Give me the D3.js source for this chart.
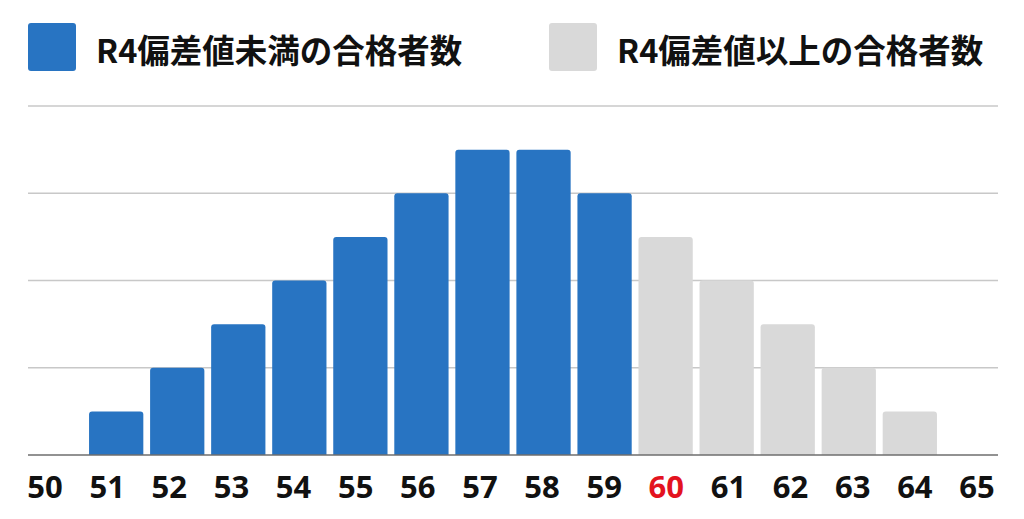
<!DOCTYPE html>
<html>
<head>
<meta charset="utf-8">
<script src="https://cdn.jsdelivr.net/npm/d3@7"></script>
<style>
  body { margin: 0; background: #fff; }
  text { font-family: "Noto Sans CJK JP", "Noto Sans", sans-serif; font-weight: 700; }
</style>
</head>
<body>
<div id="chart"></div>
<script>
const width = 1024;
const height = 519;

// data
const scores = ["50", "51", "52", "53", "54", "55", "56", "57", "58", "59", "60", "61", "62", "63", "64", "65"];
const counts = [0, 1, 2, 3, 4, 5, 6, 7, 7, 6, 5, 4, 3, 2, 1, 0];
const threshold = "60";
const seriesNames = ["R4偏差値未満の合格者数", "R4偏差値以上の合格者数"];
const seriesColors = ["#2874c2", "#d9d9d9"];
const gridValues = [0, 2, 4, 6, 8];

const left = 28, right = 998, baseY = 455;

const bars = scores.map((s, i) => ({ score: s, count: counts[i] }))
    .filter(d => d.count > 0);

const svg = d3.select("#chart")
    .append("svg")
    .attr("width", width)
    .attr("height", height);

const x = d3.scaleBand()
    .domain(scores)
    .range([left, right])
    .paddingInner(0.111)
    .paddingOuter(0);

const y = d3.scaleLinear()
    .domain([0, 8])
    .range([baseY, 106]);

// gridlines
svg.append("g")
    .selectAll("line")
    .data(gridValues.filter(v => v > 0))
    .enter().append("line")
    .attr("x1", left)
    .attr("x2", right)
    .attr("y1", d => y(d))
    .attr("y2", d => y(d))
    .attr("stroke", "#c8c8c8")
    .attr("stroke-width", 1.6);

// bars with rounded tops
const r = 3;
function barPath(d) {
    const x0 = x(d.score), w = x.bandwidth();
    const top = y(d.count), bot = y(0);
    return `M${x0},${bot}V${top + r}Q${x0},${top} ${x0 + r},${top}` +
        `H${x0 + w - r}Q${x0 + w},${top} ${x0 + w},${top + r}V${bot}Z`;
}

svg.append("g")
    .selectAll("path")
    .data(bars)
    .enter().append("path")
    .attr("d", barPath)
    .attr("fill", d => +d.score < +threshold ? seriesColors[0] : seriesColors[1]);

// baseline
svg.append("line")
    .attr("x1", left)
    .attr("x2", right)
    .attr("y1", y(0))
    .attr("y2", y(0))
    .attr("stroke", "#6e6e6e")
    .attr("stroke-width", 1.6);

// tick labels are spread evenly edge to edge
const labelX = d3.scalePoint()
    .domain(scores)
    .range([45, 977]);

svg.append("g")
    .selectAll("text")
    .data(scores)
    .enter().append("text")
    .attr("x", d => labelX(d))
    .attr("y", 498)
    .attr("text-anchor", "middle")
    .attr("font-size", 31)
    .style("font-family", "'Open Sans', 'Noto Sans', sans-serif")
    .attr("fill", d => d === threshold ? "#e3131f" : "#111")
    .text(d => d);

// legend
const legendX = [28, 549];
const legend = svg.append("g")
    .selectAll("g")
    .data(seriesNames)
    .enter().append("g")
    .attr("transform", (d, i) => `translate(${legendX[i]},23)`);

legend.append("rect")
    .attr("width", 48)
    .attr("height", 48)
    .attr("rx", 3)
    .attr("fill", (d, i) => seriesColors[i]);

legend.append("text")
    .attr("x", 68)
    .attr("y", 25)
    .attr("dominant-baseline", "central")
    .attr("font-size", 32.5)
    .attr("fill", "#111")
    .text(d => d);
</script>
</body>
</html>
